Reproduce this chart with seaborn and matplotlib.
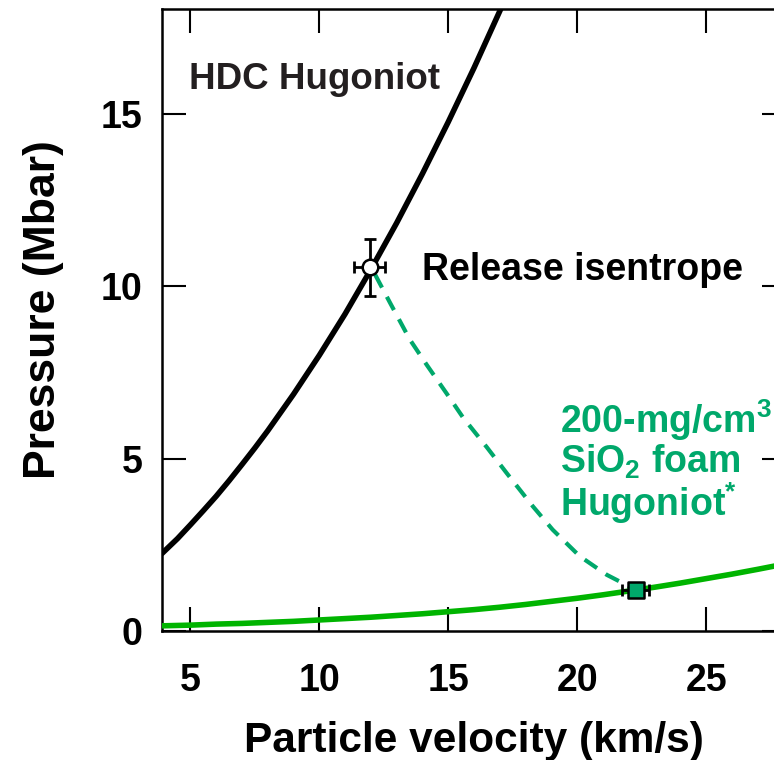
import matplotlib
matplotlib.use("Agg")
import matplotlib.pyplot as plt
import seaborn as sns
import pandas as pd

# HDC Hugoniot (particle velocity km/s, pressure Mbar)
hdc_up = [3.9, 4.5, 5, 5.5, 6, 6.5, 7, 7.5, 8, 9, 10, 11, 12, 13, 14, 15, 16, 17, 17.5]
hdc_p = [2.25, 2.68, 3.08, 3.49, 3.91, 4.36, 4.83, 5.31, 5.81, 6.87, 8.0, 9.2, 10.49, 11.84, 13.27, 14.77, 16.34, 17.99, 18.84]

# 200-mg/cm3 SiO2 foam Hugoniot
foam_up = [3.9, 5, 6, 7, 8, 9, 10, 11, 12, 13, 14, 15, 16, 17, 18, 19, 20, 21, 22, 23, 24, 25, 26, 27, 28.1]
foam_p = [0.15, 0.17, 0.2, 0.22, 0.25, 0.28, 0.32, 0.36, 0.4, 0.45, 0.5, 0.56, 0.62, 0.69, 0.77, 0.86, 0.95, 1.05, 1.16, 1.27, 1.39, 1.52, 1.65, 1.79, 1.95]

# Release isentrope
rel_up = [12.16, 12.74, 13.51, 14.17, 14.95, 15.57, 16.5, 17.27, 18.28, 19.05, 20.1, 21.15, 21.9, 22.27]
rel_p = [10.35, 9.53, 8.46, 7.72, 6.88, 6.2, 5.33, 4.58, 3.62, 2.94, 2.17, 1.63, 1.34, 1.19]

# Measured points
hdc_pt_up, hdc_pt_p, hdc_pt_uerr, hdc_pt_perr = [11.96], [10.55], [0.6], [0.82]
foam_pt_up, foam_pt_p, foam_pt_uerr, foam_pt_perr = [22.27], [1.19], [0.52], [0.05]

x_ticks = [5, 10, 15, 20, 25]
y_ticks = [0, 5, 10, 15]

sns.set_theme(style="ticks")
plt.rcParams["font.family"] = ["Liberation Sans", "DejaVu Sans"]
plt.rcParams["font.weight"] = "bold"
plt.rcParams["mathtext.fontset"] = "custom"
plt.rcParams["mathtext.rm"] = "Liberation Sans:bold"
plt.rcParams["mathtext.it"] = "Liberation Sans:bold"
plt.rcParams["mathtext.bf"] = "Liberation Sans:bold"

BLACK = "#000000"
LINE_GREEN = "#00B400"
TEXT_GREEN = "#00A86B"

fig = plt.figure(figsize=(7.74, 7.60), dpi=100)
ax = fig.add_axes([162 / 774, 129 / 760, 624 / 774, 622 / 760])

df_hdc = pd.DataFrame({"up": hdc_up, "P": hdc_p})
df_foam = pd.DataFrame({"up": foam_up, "P": foam_p})
df_rel = pd.DataFrame({"up": rel_up, "P": rel_p})

sns.lineplot(data=df_hdc, x="up", y="P", ax=ax, color=BLACK, lw=4.0, sort=False, zorder=3)
sns.lineplot(data=df_foam, x="up", y="P", ax=ax, color=LINE_GREEN, lw=4.0, sort=False, zorder=3)
sns.lineplot(data=df_rel, x="up", y="P", ax=ax, color=TEXT_GREEN, lw=3.0, sort=False,
             dashes=False, zorder=2)
ax.lines[-1].set_dashes((3.6, 2.5))

ax.errorbar(hdc_pt_up, hdc_pt_p, xerr=hdc_pt_uerr, yerr=hdc_pt_perr, fmt="none",
            ecolor=BLACK, elinewidth=2.0, capsize=4.5, capthick=2.0, zorder=4)
ax.errorbar(foam_pt_up, foam_pt_p, xerr=foam_pt_uerr, yerr=foam_pt_perr, fmt="none",
            ecolor=BLACK, elinewidth=2.0, capsize=4.5, capthick=2.0, zorder=4)
sns.scatterplot(x=hdc_pt_up, y=hdc_pt_p, ax=ax, marker="o", s=125, color="white",
                edgecolor=BLACK, linewidth=1.8, zorder=5)
sns.scatterplot(x=foam_pt_up, y=foam_pt_p, ax=ax, marker="s", s=140, color=TEXT_GREEN,
                edgecolor=BLACK, linewidth=1.8, zorder=5)

ax.set_xlim(3.9, 28.1)
ax.set_ylim(0, 18.05)
ax.set_xticks(x_ticks)
ax.set_yticks(y_ticks)
ax.set_xticklabels([str(v) for v in x_ticks])
ax.set_yticklabels([str(v) for v in y_ticks])

for s in ax.spines.values():
    s.set_visible(True)
    s.set_linewidth(1.8)
    s.set_color(BLACK)

ax.tick_params(axis="both", which="major", direction="in", length=17, width=1.5,
               top=True, right=True, labelsize=27, colors=BLACK)
ax.tick_params(axis="x", pad=23)
ax.tick_params(axis="y", pad=14)
for lab in ax.get_xticklabels() + ax.get_yticklabels():
    lab.set_fontweight("bold")

ax.set_xlabel("Particle velocity (km/s)", fontsize=30.5, fontweight="bold", color=BLACK)
ax.set_ylabel("Pressure (Mbar)", fontsize=32, fontweight="bold", color=BLACK)
ax.xaxis.set_label_coords(0.5, -0.145)
ax.yaxis.set_label_coords(-0.157, 0.516)

ax.text(4.95, 16.0, "HDC Hugoniot", fontsize=26.5, fontweight="bold", color="#231F20",
        ha="left", va="center")
ax.text(13.98, 10.49, "Release isentrope", fontsize=27, fontweight="bold", color=BLACK,
        ha="left", va="center")
ax.text(19.33, 6.13, r"200-mg/cm$^{3}$", fontsize=27, fontweight="bold", color=TEXT_GREEN,
        ha="left", va="center")
ax.text(19.33, 4.91, r"SiO$_{2}$ foam", fontsize=27, fontweight="bold", color=TEXT_GREEN,
        ha="left", va="center")
ax.text(19.33, 3.72, r"Hugoniot$^{*}$", fontsize=27, fontweight="bold", color=TEXT_GREEN,
        ha="left", va="center")

fig.savefig("out.png", dpi=100)
